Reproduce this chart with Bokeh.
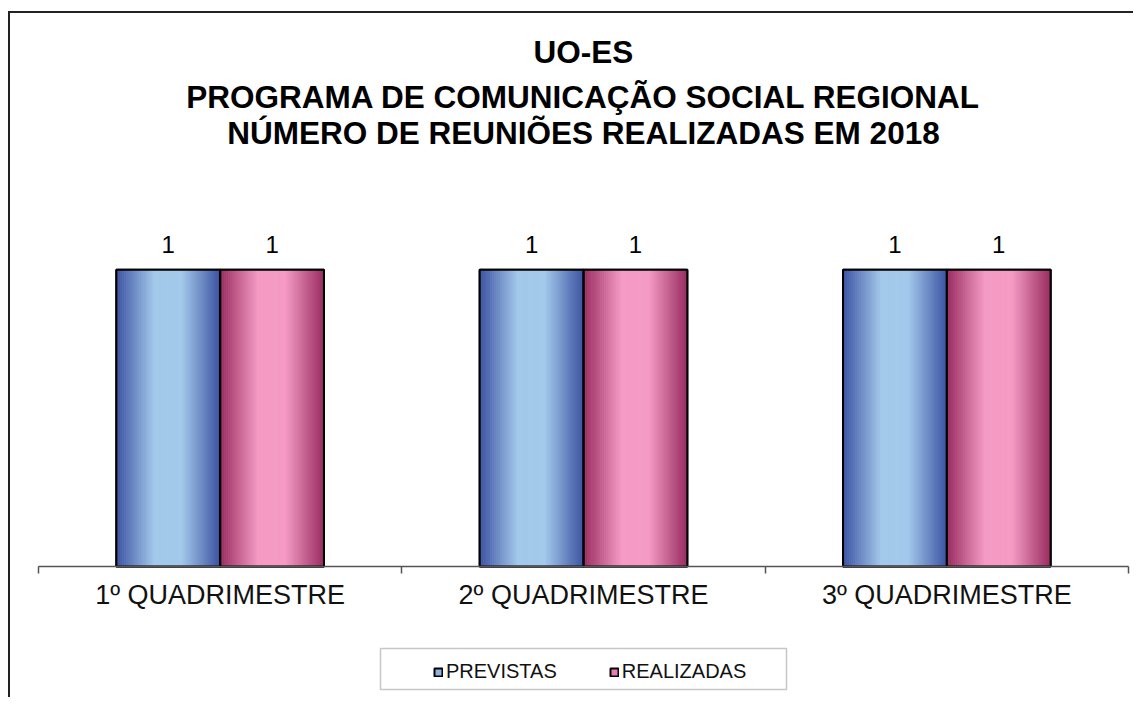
import numpy as np
from bokeh.plotting import figure
from bokeh.models import (Range1d, FixedTicker, ColumnDataSource, LabelSet, Label,
                          Legend, LegendItem, BoxAnnotation)
from bokeh.core.properties import value
from bokeh.embed import file_html
from bokeh.resources import INLINE

# ---------------- data ----------------
categories = ["1º QUADRIMESTRE", "2º QUADRIMESTRE", "3º QUADRIMESTRE"]
previstas = [1, 1, 1]
realizadas = [1, 1, 1]
series_names = ["PREVISTAS", "REALIZADAS"]
title_lines = ["UO-ES",
               "PROGRAMA DE COMUNICAÇÃO SOCIAL REGIONAL",
               "NÚMERO DE REUNIÕES REALIZADAS EM 2018"]

# ---------------- styles / layout ----------------
FONT = "Liberation Sans"
blue_dark, blue_light = (0x3C, 0x52, 0xA2), (0xA4, 0xCA, 0xEB)
pink_dark, pink_light = (0x98, 0x2C, 0x60), (0xF5, 0x9C, 0xC5)
blue_swatch, pink_swatch = "#8DB3E2", "#E77DB2"

CANVAS_L, CANVAS_T, CANVAS_W, CANVAS_H = 10, 13, 1125, 686   # page pixels
AX_L, AX_R, AX_Y, BAR_TOP_Y = 38, 1128, 566, 269.3           # page pixels

n = len(categories)
vmax = max(previstas + realizadas)
px_x = (AX_R - AX_L) / n
px_y = (AX_Y - BAR_TOP_Y) / vmax


def dx(px):
    return (px - AX_L) / px_x


def dy(py):
    return (AX_Y - py) / px_y


centers = np.arange(n) + 0.5
bar_w = 1 / 3.5            # gap width 150%
x_prev = centers - bar_w / 2
x_real = centers + bar_w / 2

p = figure(width=CANVAS_W, height=CANVAS_H,
           x_range=Range1d(dx(CANVAS_L), dx(CANVAS_L + CANVAS_W)),
           y_range=Range1d(dy(CANVAS_T + CANVAS_H), dy(CANVAS_T)),
           y_axis_location=None,
           output_backend="svg", toolbar_location=None,
           min_border=0,
           background_fill_color="white", border_fill_color="white")
p.styles = {"border-left": "2px solid #222", "border-top": "2px solid #222",
            "margin-top": "11px", "margin-left": "8px"}
p.outline_line_color = None
p.xgrid.visible = False
p.ygrid.visible = False

# title lines
for line, py in zip(title_lines, [51, 96, 132]):
    p.add_layout(Label(x=n / 2, y=dy(py), text=line, text_align="center",
                       text_baseline="middle", text_font=FONT,
                       text_font_size="31.5px", text_font_style="bold",
                       text_color="#000000"))

# ---------------- bars ----------------
src_prev = ColumnDataSource(dict(x=x_prev, top=previstas))
src_real = ColumnDataSource(dict(x=x_real, top=realizadas))

base_prev = p.vbar(x="x", top="top", width=bar_w, source=src_prev,
                   fill_color=blue_swatch, line_color="black", line_width=2)
base_real = p.vbar(x="x", top="top", width=bar_w, source=src_real,
                   fill_color=pink_swatch, line_color="black", line_width=2)

N = 50
t = (np.arange(N) + 0.5) / N
f = np.clip(1.35 * (1 - np.abs(2 * t - 1)), 0, 1)


def shade(c0, c1):
    out = []
    for v in f:
        r, g, b = (int(round(a + (b_ - a) * v)) for a, b_ in zip(c0, c1))
        out.append("#%02x%02x%02x" % (r, g, b))
    return out


def strips(xs, vals, c0, c1):
    cols = shade(c0, c1)
    L, R, T, C = [], [], [], []
    for x, v in zip(xs, vals):
        left0 = x - bar_w / 2
        for k in range(N):
            L.append(left0 + k * bar_w / N)
            R.append(left0 + (k + 1) * bar_w / N)
            T.append(v)
            C.append(cols[k])
    return ColumnDataSource(dict(left=L, right=R, top=T, bottom=[0] * len(L), color=C))


for xs, vals, c0, c1 in [(x_prev, previstas, blue_dark, blue_light),
                         (x_real, realizadas, pink_dark, pink_light)]:
    s = strips(xs, vals, c0, c1)
    p.quad(left="left", right="right", top="top", bottom="bottom", source=s,
           fill_color="color", line_color="color", line_width=0.6)

for s in (src_prev, src_real):
    p.vbar(x="x", top="top", width=bar_w, source=s, fill_alpha=0,
           line_color="black", line_width=2)

# value labels
lab_src = ColumnDataSource(dict(
    x=list(x_prev) + list(x_real),
    y=previstas + realizadas,
    txt=[str(v) for v in previstas + realizadas]))
p.add_layout(LabelSet(x="x", y="y", text="txt", source=lab_src,
                      y_offset=17, text_align="center", text_baseline="alphabetic",
                      text_font=value(FONT), text_font_size=value("24px"),
                      text_color=value("#000000")))

# ---------------- x axis (fixed at y = 0) ----------------
ax = p.xaxis[0]
ax.fixed_location = 0
ax.bounds = (0, n)
ax.ticker = FixedTicker(ticks=list(centers), minor_ticks=list(range(n + 1)))
ax.major_label_overrides = {float(c): name for c, name in zip(centers, categories)}
ax.major_tick_line_color = None
ax.major_tick_out = 0
ax.major_tick_in = 0
ax.minor_tick_line_color = "#555555"
ax.minor_tick_in = 0
ax.minor_tick_out = 7
ax.axis_line_color = "#555555"
ax.axis_line_width = 1.5
ax.minor_tick_line_width = 1.5
ax.major_label_text_font = FONT
ax.major_label_text_font_size = "27px"
ax.major_label_text_color = "#111111"
ax.major_label_standoff = 6

# ---------------- legend ----------------
legend = Legend(items=[LegendItem(label=series_names[0], renderers=[base_prev]),
                       LegendItem(label=series_names[1], renderers=[base_real])],
                orientation="horizontal",
                location=(433 - CANVAS_L, (CANVAS_T + CANVAS_H) - 683),
                border_line_color=None, background_fill_alpha=0,
                padding=0, margin=0, spacing=52,
                glyph_width=10, glyph_height=10, label_standoff=3,
                label_text_font=FONT, label_text_font_size="20px",
                label_text_color="#111111")
p.add_layout(legend)

p.add_layout(BoxAnnotation(left=dx(380), right=dx(786), top=dy(648), bottom=dy(689),
                           fill_alpha=0, line_color="#444444", line_width=1.5))

open("out.html", "w").write(file_html(p, INLINE))
